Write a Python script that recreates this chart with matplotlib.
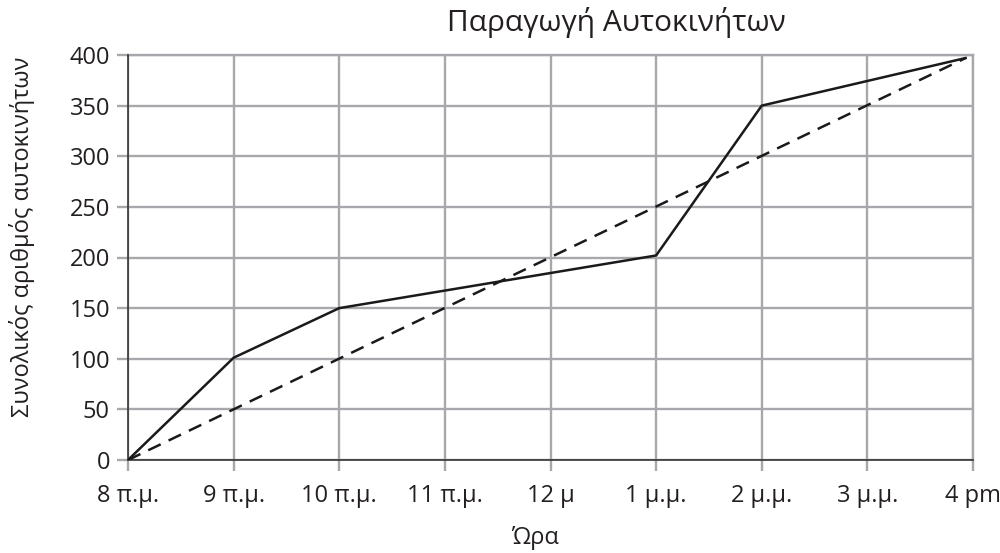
import matplotlib
matplotlib.use("Agg")
import matplotlib.pyplot as plt

plt.rcParams['font.family'] = ['Open Sans', 'DejaVu Sans']

tick_labels = ["8 π.μ.", "9 π.μ.", "10 π.μ.", "11 π.μ.", "12 μ", "1 μ.μ.", "2 μ.μ.", "3 μ.μ.", "4 pm"]
actual_x = [0, 1, 2, 5, 6, 7.93]
actual_y = [0, 101, 150, 202, 350, 397]
target_x = [0, 7.93]
target_y = [0, 397]
y_ticks = [0, 50, 100, 150, 200, 250, 300, 350, 400]

fig = plt.figure(figsize=(10, 5.53), dpi=100)
ax = fig.add_axes([0.128, 1 - 460/553, 0.845, 405/553])

grid_c = '#a7a8ab'
txt_c = '#231f20'
ax.set_xlim(0, 8)
ax.set_ylim(0, 400)
ax.set_xticks(range(len(tick_labels)))
ax.set_xticklabels(tick_labels)
ax.set_yticks(y_ticks)
ax.grid(True, color=grid_c, linewidth=1.7)
ax.set_axisbelow(True)
for s in ['top', 'right']:
    ax.spines[s].set_color(grid_c)
    ax.spines[s].set_linewidth(1.7)
for s in ['left', 'bottom']:
    ax.spines[s].set_color('#333333')
    ax.spines[s].set_linewidth(1.2)
    ax.spines[s].set_zorder(3)
ax.tick_params(axis='both', colors=grid_c, width=1.7, length=8, labelcolor=txt_c, labelsize=17)
ax.tick_params(axis='y', pad=5)
ax.tick_params(axis='x', pad=9)

ax.plot(actual_x, actual_y, color='#1a1a1a', linewidth=1.8, zorder=4)
ax.plot(target_x, target_y, color='#1a1a1a', linewidth=1.8, dashes=(5.5, 3.5), zorder=4)

fig.text(0.616, 1 - 23/553, "Παραγωγή Αυτοκινήτων", ha='center', va='center', fontsize=21.5, color=txt_c)
fig.text(0.535, 1 - 538/553, "Ώρα", ha='center', va='center', fontsize=17, color=txt_c)
fig.text(0.022, 1 - 237/553, "Συνολικός αριθμός αυτοκινήτων", ha='center', va='center',
         rotation=90, fontsize=17, color=txt_c)

fig.savefig("out.png", dpi=100)
